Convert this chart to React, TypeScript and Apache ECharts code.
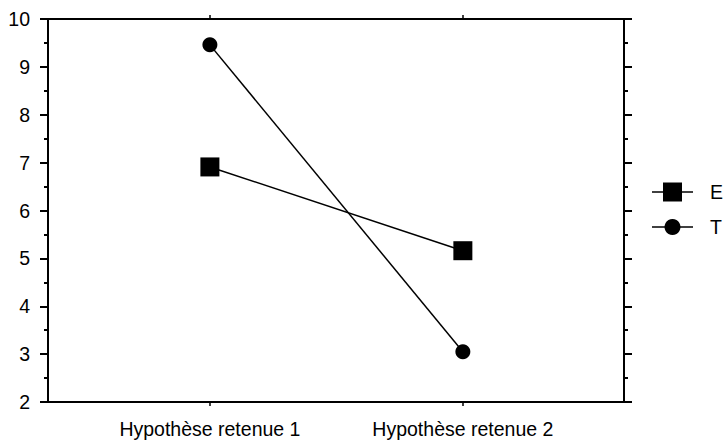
import React, { useEffect, useRef } from "react";
import * as echarts from "echarts";

const categories = ["Hypothèse retenue 1", "Hypothèse retenue 2"];
const seriesNames = ["E", "T"];
const valuesE = [6.91, 5.16];
const valuesT = [9.46, 3.05];
const yMin = 2;
const yMax = 10;

export default function App() {
  const ref = useRef<HTMLDivElement>(null);
  useEffect(() => {
    const chart = echarts.init(ref.current!, null, { renderer: "svg" });
    const font = "Arial, 'Liberation Sans', sans-serif";
    const xIdx = categories.map((_, i) => i);
    const lineStyle = { color: "#000", width: 2 };
    const xCommon = {
      type: "value",
      min: -0.64,
      max: 1.637,
      splitLine: { show: false },
      axisLine: { show: true, onZero: false, lineStyle },
      axisTick: { show: true, customValues: xIdx, length: 4, lineStyle: { color: "#000", width: 1.5 } },
    };
    const yCommon = {
      type: "value",
      min: yMin,
      max: yMax,
      interval: 1,
      splitLine: { show: false },
      axisLine: { show: true, onZero: false, lineStyle },
      axisTick: { show: true, length: 8, lineStyle: { color: "#000", width: 2 } },
      minorTick: { show: true, splitNumber: 2, length: 4, lineStyle: { color: "#000", width: 2 } },
      minorSplitLine: { show: false },
    };
    const legendX = 652;
    const legendW = 41;
    const legendRows = [192, 227];
    const legendGraphics: any[] = [];
    seriesNames.forEach((name, i) => {
      const y = legendRows[i];
      legendGraphics.push({
        type: "line",
        shape: { x1: legendX, y1: y, x2: legendX + legendW, y2: y },
        style: { stroke: "#000", lineWidth: 1.5 },
      });
      if (i === 0) {
        legendGraphics.push({
          type: "rect",
          shape: { x: legendX + legendW / 2 - 9.5, y: y - 9.5, width: 19, height: 19 },
          style: { fill: "#000" },
        });
      } else {
        legendGraphics.push({
          type: "circle",
          shape: { cx: legendX + legendW / 2, cy: y, r: 8 },
          style: { fill: "#000" },
        });
      }
      legendGraphics.push({
        type: "text",
        x: 710,
        y,
        style: {
          text: name,
          fill: "#000",
          font: `19.5px ${font}`,
          textVerticalAlign: "middle",
          verticalAlign: "middle",
          align: "left",
        },
      });
    });
    chart.setOption({
      animation: false,
      grid: { left: 48, right: 99, top: 19, bottom: 38 },
      xAxis: [
        {
          ...xCommon,
          position: "bottom",
          axisLabel: {
            customValues: xIdx,
            formatter: (v: number) => categories[Math.round(v)],
            color: "#000",
            fontSize: 19.5,
            fontFamily: font,
            margin: 17,
          },
        },
        {
          ...xCommon,
          position: "top",
          axisLabel: { show: false },
        },
      ],
      yAxis: [
        {
          ...yCommon,
          position: "left",
          axisLabel: { color: "#000", fontSize: 19.5, fontFamily: font, margin: 18 },
        },
        {
          ...yCommon,
          position: "right",
          axisLabel: { show: false },
        },
      ],
      graphic: legendGraphics,
      series: [
        {
          name: seriesNames[0],
          type: "line",
          xAxisIndex: 0,
          yAxisIndex: 0,
          data: valuesE.map((v, i) => [i, v]),
          symbol: "rect",
          symbolSize: 19,
          itemStyle: { color: "#000" },
          lineStyle: { color: "#000", width: 1.5 },
        },
        {
          name: seriesNames[1],
          type: "line",
          xAxisIndex: 0,
          yAxisIndex: 0,
          data: valuesT.map((v, i) => [i, v]),
          symbol: "circle",
          symbolSize: 15,
          itemStyle: { color: "#000" },
          lineStyle: { color: "#000", width: 1.5 },
        },
      ],
    });
    return () => chart.dispose();
  }, []);
  return (
    <div
      ref={ref}
      style={{ position: "absolute", left: 0, top: 0, width: 723, height: 440, background: "#fff" }}
    />
  );
}
